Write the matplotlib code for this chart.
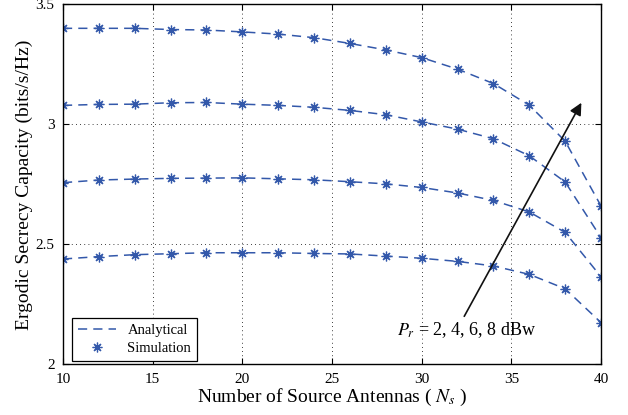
import matplotlib
matplotlib.use("Agg")
import matplotlib.pyplot as plt

plt.rcParams['font.family'] = ['Liberation Serif', 'DejaVu Serif']
plt.rcParams['mathtext.fontset'] = 'stix'

ns = [10, 12, 14, 16, 18, 20, 22, 24, 26, 28, 30, 32, 34, 36, 38, 40]
pr8 = [3.400, 3.400, 3.400, 3.395, 3.393, 3.385, 3.376, 3.361, 3.337, 3.310,
       3.278, 3.230, 3.170, 3.080, 2.930, 2.660]
pr6 = [3.079, 3.083, 3.084, 3.090, 3.091, 3.084, 3.079, 3.071, 3.058, 3.040,
       3.010, 2.980, 2.940, 2.869, 2.760, 2.528]
pr4 = [2.757, 2.768, 2.772, 2.775, 2.776, 2.777, 2.773, 2.769, 2.761, 2.752,
       2.737, 2.714, 2.683, 2.635, 2.550, 2.365]
pr2 = [2.439, 2.449, 2.457, 2.461, 2.465, 2.465, 2.465, 2.462, 2.460, 2.451,
       2.442, 2.429, 2.410, 2.375, 2.315, 2.174]
series = [pr2, pr4, pr6, pr8]

color = '#3358aa'

fig = plt.figure(figsize=(6.28, 4.15), dpi=100)
ax = fig.add_axes([0.1003, 0.122, 0.8567, 0.8676])

for i, s in enumerate(series):
    ax.plot(ns, s, linestyle=(0, (6, 4)), color=color, linewidth=1.1,
            label='Analytical' if i == 0 else None)
    ax.plot(ns, s, linestyle='none', marker=(8, 2, 0), markersize=7,
            markeredgewidth=0.9, color=color,
            label='Simulation' if i == 0 else None)

ax.set_xlim(10, 40)
ax.set_ylim(2, 3.5)
ax.set_xticks([10, 15, 20, 25, 30, 35, 40])
ax.set_yticks([2, 2.5, 3, 3.5])
ax.set_yticklabels(['2', '2.5', '3', '3.5'])
ax.tick_params(direction='in', labelsize=11, top=True, right=True, length=4)
ax.tick_params(axis='x', pad=6)
ax.tick_params(axis='y', pad=6)
ax.grid(True, color='black', linestyle=(0, (1, 4)), linewidth=0.6)
for sp in ax.spines.values():
    sp.set_linewidth(1.0)

ax.set_xlabel('Number of Source Antennas ( $N_s$ )', fontsize=14, labelpad=1)
ax.set_ylabel('Ergodic Secrecy Capacity (bits/s/Hz)', fontsize=14, labelpad=2)

ax.annotate('', xy=(38.98, 3.10), xytext=(32.3, 2.19),
            arrowprops=dict(arrowstyle='-|>', color='#111111', lw=1.2,
                            mutation_scale=18))
ax.text(28.6, 2.143, '$P_r$ = 2, 4, 6, 8 dBw', fontsize=13, va='center', ha='left')

leg = ax.legend(loc='lower left', bbox_to_anchor=(0.0167, 0.009), borderaxespad=0,
                fontsize=10.5, frameon=True, fancybox=False,
                edgecolor='black', framealpha=1, handlelength=2.6,
                labelspacing=0.35)
leg.get_frame().set_linewidth(0.9)

fig.savefig('out.png', dpi=100)
